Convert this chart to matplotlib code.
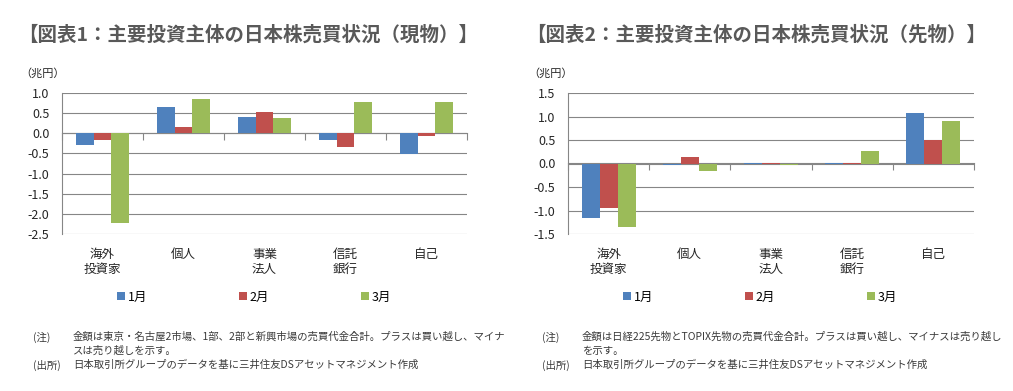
import numpy as np
import matplotlib
matplotlib.use("Agg")
import matplotlib.pyplot as plt

plt.rcParams['font.family'] = ['Noto Sans CJK JP', 'DejaVu Sans']

# categories and months
categories = ["海外\n投資家", "個人", "事業\n法人", "信託\n銀行", "自己"]
months = ["1月", "2月", "3月"]
colors = ["#4F81BD", "#C0504D", "#9BBB59"]

# 図表1: 現物 (兆円)
spot_jan = [-0.30, 0.65, 0.40, -0.16, -0.51]
spot_feb = [-0.16, 0.16, 0.52, -0.34, -0.06]
spot_mar = [-2.22, 0.84, 0.37, 0.77, 0.77]

# 図表2: 先物 (兆円)
fut_jan = [-1.17, -0.04, 0.02, 0.01, 1.07]
fut_feb = [-0.95, 0.14, 0.02, 0.01, 0.51]
fut_mar = [-1.35, -0.16, -0.03, 0.27, 0.90]

titles = ["【図表1：主要投資主体の日本株売買状況（現物）】",
          "【図表2：主要投資主体の日本株売買状況（先物）】"]
notes = [["金額は東京・名古屋2市場、1部、2部と新興市場の売買代金合計。プラスは買い越し、マイナ",
          "スは売り越しを示す。"],
         ["金額は日経225先物とTOPIX先物の売買代金合計。プラスは買い越し、マイナスは売り越し",
          "を示す。"]]
source = "日本取引所グループのデータを基に三井住友DSアセットマネジメント作成"

W, H = 1013, 391
fig = plt.figure(figsize=(W / 100, H / 100), dpi=100)

grid_col = "#868686"
text_col = "#262626"


def draw_panel(rect, series, ylim, yticks, title, note, title_x, note_x, legend_x):
    ax = fig.add_axes(rect)
    x = np.arange(len(categories))
    bw = 0.222
    for i, (vals, m, c) in enumerate(zip(series, months, colors)):
        ax.bar(x + (i - 1) * bw, vals, bw, color=c, label=m, zorder=3)

    ax.set_xlim(-0.5, len(categories) - 0.5)
    ax.set_ylim(*ylim)
    ax.set_yticks(yticks)
    ax.set_yticklabels(["%.1f" % v for v in yticks])
    ax.yaxis.grid(True, color=grid_col, lw=0.8, zorder=0)
    ax.set_axisbelow(True)
    for s in ["top", "right", "bottom"]:
        ax.spines[s].set_visible(False)
    ax.spines["left"].set_color(grid_col)
    ax.spines["left"].set_linewidth(0.8)
    ax.tick_params(axis="y", length=0, pad=9, labelsize=9, labelcolor=text_col)
    ax.set_xticks(x)
    ax.set_xticklabels(categories, fontsize=9, color=text_col, linespacing=1.25, va="top")
    ax.tick_params(axis="x", length=0, pad=10)

    # category axis at zero with boundary tick marks
    frac = (0 - ylim[0]) / (ylim[1] - ylim[0])
    sec = ax.secondary_xaxis(frac)
    sec.set_xticks(np.arange(len(categories) + 1) - 0.5)
    sec.set_xticklabels([])
    sec.tick_params(direction="in", length=5, color=grid_col, width=0.8,
                    labelbottom=False, labeltop=False)
    for sp in sec.spines.values():
        sp.set_color(grid_col)
        sp.set_linewidth(0.8)

    handles, labels = ax.get_legend_handles_labels()
    fig.legend(handles, labels, loc="center", bbox_to_anchor=(legend_x / W, 1 - 297 / H),
               ncol=3, frameon=False, fontsize=9, handlelength=0.65, handleheight=0.65,
               handletextpad=0.25, columnspacing=7.3)

    fig.text(title_x / W, 1 - 35 / H, title, fontsize=14, fontweight="bold",
             color="#595959", va="center", ha="left")
    fig.text((title_x + 2) / W, 1 - 73 / H, "（兆円）", fontsize=8, color=text_col,
             va="center", ha="left")

    fs = 7.5
    nc = "#3a3a3a"
    fig.text(note_x / W, 1 - 337 / H, "(注)", fontsize=fs, color=nc, va="center")
    fig.text((note_x + 40) / W, 1 - 337 / H, note[0], fontsize=fs, color=nc, va="center")
    fig.text((note_x + 40) / W, 1 - 351 / H, note[1], fontsize=fs, color=nc, va="center")
    fig.text(note_x / W, 1 - 365 / H, "(出所)", fontsize=fs, color=nc, va="center")
    fig.text((note_x + 40) / W, 1 - 365 / H, source, fontsize=fs, color=nc, va="center")
    return ax


draw_panel([62 / W, 1 - 234 / H, 405 / W, 141 / H],
           [spot_jan, spot_feb, spot_mar], (-2.5, 1.0), np.arange(1.0, -2.51, -0.5),
           titles[0], notes[0], 18, 33, 254)
draw_panel([568 / W, 1 - 234 / H, 406 / W, 141 / H],
           [fut_jan, fut_feb, fut_mar], (-1.5, 1.5), np.arange(1.5, -1.51, -0.5),
           titles[1], notes[1], 526, 542, 760)

fig.savefig("out.png", dpi=100)
